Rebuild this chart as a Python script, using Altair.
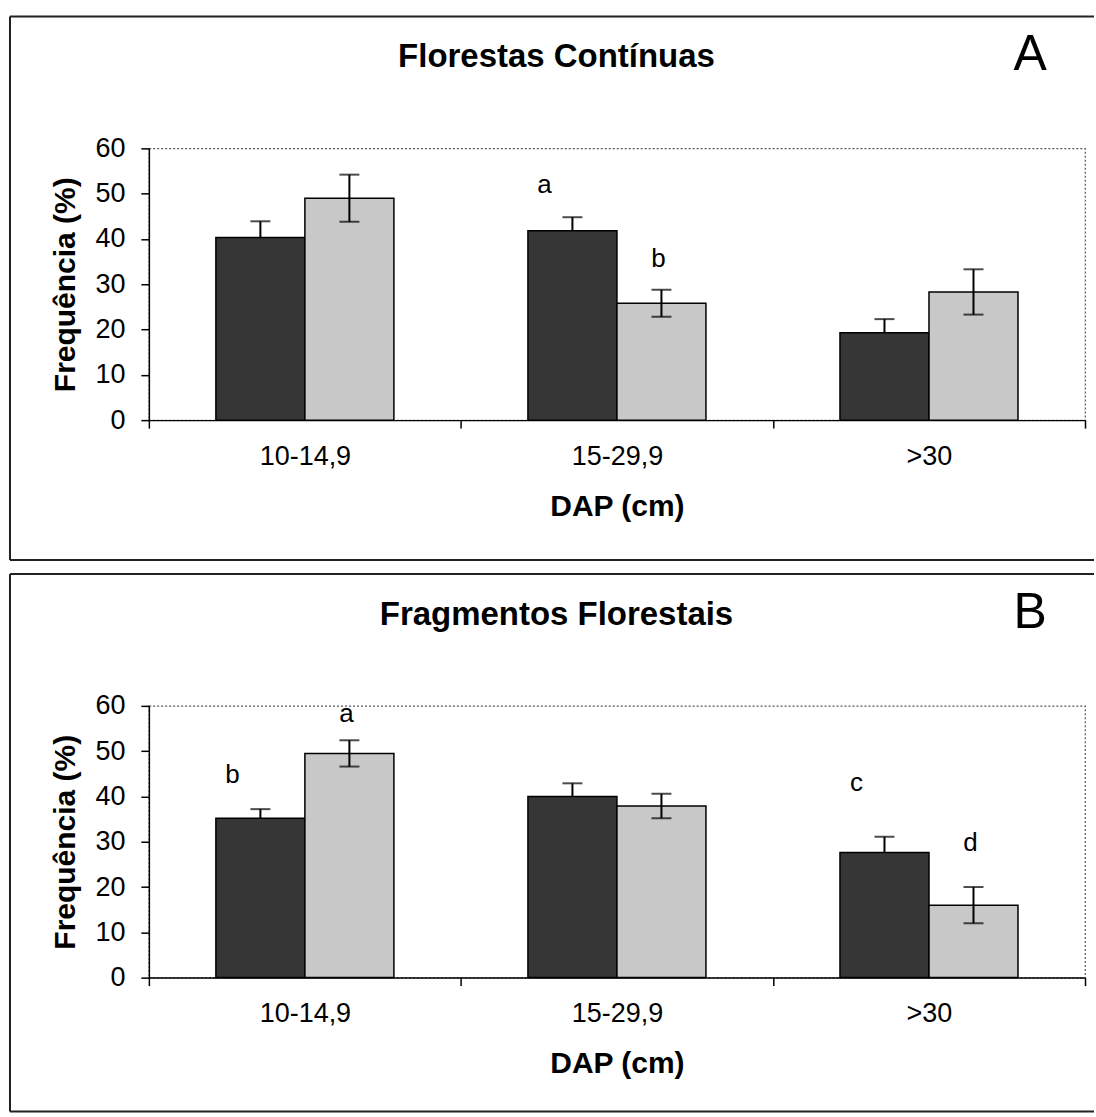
import altair as alt
import pandas as pd

FONT = "Liberation Sans"

categories = ["10-14,9", "15-29,9", ">30"]
series = ["Série 1", "Série 2"]

# Panel A - Florestas Contínuas
a_dark = [40.3, 41.8, 19.3]
a_dark_err = [3.6, 3.0, 3.0]
a_light = [49.0, 25.8, 28.3]
a_light_err = [5.2, 3.0, 5.0]
a_letters_dark = ["", "a", ""]
a_letters_dark_pos = [0, 50.2, 0]
a_letters_light = ["", "b", ""]
a_letters_light_pos = [0, 33.7, 0]

# Panel B - Fragmentos Florestais
b_dark = [35.2, 40.0, 27.6]
b_dark_err = [2.0, 2.9, 3.5]
b_light = [49.5, 37.9, 16.0]
b_light_err = [2.9, 2.7, 4.0]
b_letters_dark = ["b", "", "c"]
b_letters_dark_pos = [43.0, 0, 41.1]
b_letters_light = ["a", "", "d"]
b_letters_light_pos = [56.5, 0, 27.9]

W, H = 937, 272


def panel(title, tag, dark, dark_err, light, light_err,
          ld, ld_pos, ll, ll_pos, bottom_border):
    rows = []
    for i, c in enumerate(categories):
        rows.append(dict(cat=c, ser=series[0], val=dark[i],
                         lo=dark[i], hi=dark[i] + dark_err[i]))
        rows.append(dict(cat=c, ser=series[1], val=light[i],
                         lo=light[i] - light_err[i], hi=light[i] + light_err[i]))
    df = pd.DataFrame(rows)

    caps = []
    for r in rows:
        caps.append(dict(cat=r["cat"], ser=r["ser"], y=r["hi"]))
        if r["ser"] == series[1]:
            caps.append(dict(cat=r["cat"], ser=r["ser"], y=r["lo"]))
    caps = pd.DataFrame(caps)

    lets = []
    for i, c in enumerate(categories):
        if ld[i]:
            lets.append(dict(cat=c, ser=series[0], pos=ld_pos[i], txt=ld[i]))
        if ll[i]:
            lets.append(dict(cat=c, ser=series[1], pos=ll_pos[i], txt=ll[i]))
    lets = pd.DataFrame(lets)

    x = alt.X("cat:N", sort=categories,
              scale=alt.Scale(paddingInner=0, paddingOuter=0),
              axis=alt.Axis(title="DAP (cm)", labelAngle=0, tickBand="extent",
                            tickSize=8, tickColor="black", tickWidth=1.5,
                            domainColor="black", domainWidth=1.5,
                            labelFont=FONT, labelFontSize=27, labelColor="black",
                            labelPadding=15,
                            titleFont=FONT, titleFontSize=30, titleFontWeight="bold",
                            titleColor="black", titlePadding=22))
    xo = alt.XOffset("ser:N", sort=series,
                     scale=alt.Scale(domain=series, paddingInner=0, paddingOuter=0.753))
    yscale = alt.Scale(domain=[0, 60], nice=False)
    y = alt.Y("val:Q", scale=yscale,
              axis=alt.Axis(title="Frequência (%)", values=[0, 10, 20, 30, 40, 50, 60],
                            grid=False, tickSize=8, tickColor="black", tickWidth=1.5,
                            domainColor="black", domainWidth=1.5,
                            labelFont=FONT, labelFontSize=27, labelColor="black",
                            labelPadding=16,
                            titleFont=FONT, titleFontSize=30, titleFontWeight="bold",
                            titleColor="black", titlePadding=14))

    bars = alt.Chart(df).mark_bar(stroke="black", strokeWidth=1.5).encode(
        x=x, xOffset=xo, y=y,
        color=alt.Color("ser:N", scale=alt.Scale(domain=series,
                                                 range=["#363636", "#c8c8c8"]),
                        legend=None))
    err = alt.Chart(df).mark_rule(color="black", strokeWidth=2).encode(
        x=x, xOffset=xo, y=alt.Y("lo:Q", scale=yscale), y2="hi:Q")
    cap = alt.Chart(caps).mark_tick(color="black", thickness=2, size=20,
                                    orient="horizontal").encode(
        x=x, xOffset=xo, y=alt.Y("y:Q", scale=yscale))
    txt_d = alt.Chart(lets).transform_filter(
        alt.datum.ser == series[0]).mark_text(
        font=FONT, fontSize=26, color="black", baseline="alphabetic", dx=-28).encode(
        x=x, xOffset=xo, y=alt.Y("pos:Q", scale=yscale), text="txt:N")
    txt_l = alt.Chart(lets).transform_filter(
        alt.datum.ser == series[1]).mark_text(
        font=FONT, fontSize=26, color="black", baseline="alphabetic", dx=-3).encode(
        x=x, xOffset=xo, y=alt.Y("pos:Q", scale=yscale), text="txt:N")

    one = pd.DataFrame({"t": [title], "g": [tag]})
    ttl = alt.Chart(one).mark_text(font=FONT, fontSize=33, fontWeight="bold",
                                   color="black", baseline="alphabetic").encode(
        text="t:N", x=alt.value(408), y=alt.value(-81))
    tg = alt.Chart(one).mark_text(font=FONT, fontSize=50, color="black",
                                  baseline="alphabetic").encode(
        text="g:N", x=alt.value(882), y=alt.value(-78))

    top = alt.Chart(one).mark_rule(color="#222", strokeWidth=2).encode(
        x=alt.value(-139), x2=alt.value(946), y=alt.value(-132))
    left = alt.Chart(one).mark_rule(color="#222", strokeWidth=2).encode(
        x=alt.value(-139), y=alt.value(-132), y2=alt.value(bottom_border))
    bot = alt.Chart(one).mark_rule(color="#222", strokeWidth=2).encode(
        x=alt.value(-139), x2=alt.value(946), y=alt.value(bottom_border))

    return alt.layer(bars, err, cap, txt_d, txt_l, ttl, tg, top, left, bot).properties(
        width=W, height=H)


pA = panel("Florestas Contínuas", "A", a_dark, a_dark_err, a_light, a_light_err,
           a_letters_dark, a_letters_dark_pos, a_letters_light, a_letters_light_pos, 412)
pB = panel("Fragmentos Florestais", "B", b_dark, b_dark_err, b_light, b_light_err,
           b_letters_dark, b_letters_dark_pos, b_letters_light, b_letters_light_pos, 406)

chart = alt.vconcat(pA, pB, spacing=10).properties(
    padding={"left": 8, "top": 14, "right": 0, "bottom": 0},
    background="white",
).configure_view(stroke="#555", strokeDash=[2, 2], strokeWidth=1.2)

chart.save("out.html", embed_options={"renderer": "svg", "actions": False})
